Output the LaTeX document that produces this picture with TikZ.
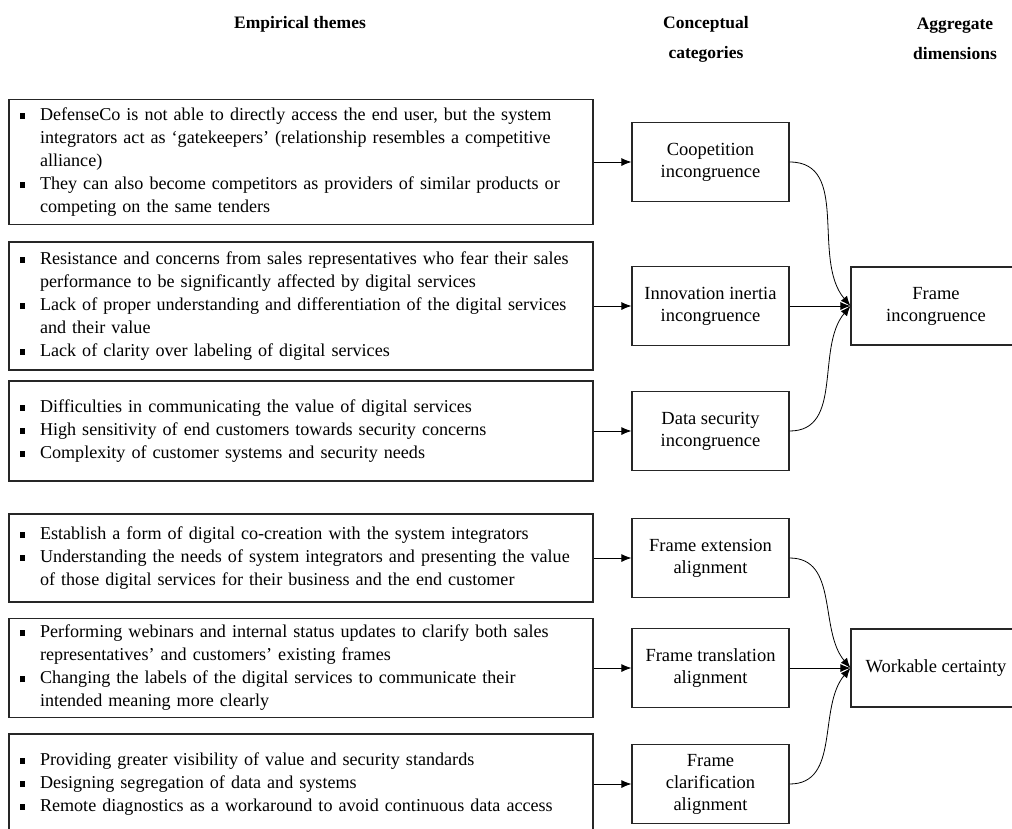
\documentclass[tikz,border=0pt]{standalone}
\usepackage{fontspec}
\setmainfont{Liberation Serif}
\usetikzlibrary{arrows.meta}

\newcommand{\bul}{\makebox[20pt][l]{\rule[1.5pt]{5pt}{6pt}}}
\newcommand{\ind}{\hspace*{20pt}}

\tikzset{
  theme/.style={draw=black!85, line width=1.2pt, align=left, text width=562pt,
    inner xsep=11pt, inner ysep=0pt, font=\fontsize{18.1}{23}\selectfont},
  category/.style={draw=black!85, line width=1.2pt, align=center, minimum width=157pt,
    minimum height=79pt, inner sep=2pt, font=\fontsize{18.5}{22}\selectfont},
  dimension/.style={category, minimum width=170pt, minimum height=78pt},
  heading/.style={align=center, font=\bfseries\fontsize{17.5}{30}\selectfont},
  link/.style={line width=0.8pt, -{Latex[length=10pt,width=8pt]}}
}

\begin{document}
\begin{tikzpicture}[x=1pt, y=1pt]
\useasboundingbox (0,0) rectangle (1012,-828);
\clip (0,0) rectangle (1012,-828);

\node[heading] (hemp) at (300,-24) {Empirical themes};
\node[heading] (hcat) at (706,-39) {Conceptual\\categories};
\node[heading] (hdim) at (955,-39) {Aggregate\\dimensions};

% empirical themes
\node[theme, minimum height=125pt] (t1) at (301,-162) {\bul DefenseCo is not able to directly access the end user, but the system\\
\ind integrators act as ‘gatekeepers’ (relationship resembles a competitive\\
\ind alliance)\\
\bul They can also become competitors as providers of similar products or\\
\ind competing on the same tenders};
\node[theme, minimum height=128pt] (t2) at (301,-306) {\bul Resistance and concerns from sales representatives who fear their sales\\
\ind performance to be significantly affected by digital services\\
\bul Lack of proper understanding and differentiation of the digital services\\
\ind and their value\\
\bul Lack of clarity over labeling of digital services};
\node[theme, minimum height=100pt] (t3) at (301,-431) {\bul Difficulties in communicating the value of digital services\\
\bul High sensitivity of end customers towards security concerns\\
\bul Complexity of customer systems and security needs};
\node[theme, minimum height=88pt] (t4) at (301,-558) {\bul Establish a form of digital co-creation with the system integrators\\
\bul Understanding the needs of system integrators and presenting the value\\
\ind of those digital services for their business and the end customer};
\node[theme, minimum height=99pt] (t5) at (301,-668) {\bul Performing webinars and internal status updates to clarify both sales\\
\ind representatives’ and customers’ existing frames\\
\bul Changing the labels of the digital services to communicate their\\
\ind intended meaning more clearly};
\node[theme, minimum height=100pt] (t6) at (301,-784) {\bul Providing greater visibility of value and security standards\\
\bul Designing segregation of data and systems\\
\bul Remote diagnostics as a workaround to avoid continuous data access};

% conceptual categories
\node[category] (coop) at (710.5,-162) {Coopetition\\incongruence};
\node[category] (inert) at (710.5,-306) {Innovation inertia\\incongruence};
\node[category] (secur) at (710.5,-431) {Data security\\incongruence};
\node[category] (ext) at (710.5,-558) {Frame extension\\alignment};
\node[category] (trans) at (710.5,-668) {Frame translation\\alignment};
\node[category] (clar) at (710.5,-784) {Frame\\clarification\\alignment};

% aggregate dimensions
\node[dimension] (incong) at (936,-306) {Frame\\incongruence};
\node[dimension] (work) at (936,-668) {Workable certainty};

\draw[link] (t1) -- (coop);
\draw[link] (t2) -- (inert);
\draw[link] (t3) -- (secur);
\draw[link] (t4) -- (ext);
\draw[link] (t5) -- (trans);
\draw[link] (t6) -- (clar);

\draw[link] (coop.east) to[out=0, in=130] (incong.west);
\draw[link] (inert) -- (incong);
\draw[link] (secur.east) to[out=0, in=-130] (incong.west);
\draw[link] (ext.east) to[out=0, in=130] (work.west);
\draw[link] (trans) -- (work);
\draw[link] (clar.east) to[out=0, in=-130] (work.west);

\end{tikzpicture}
\end{document}
